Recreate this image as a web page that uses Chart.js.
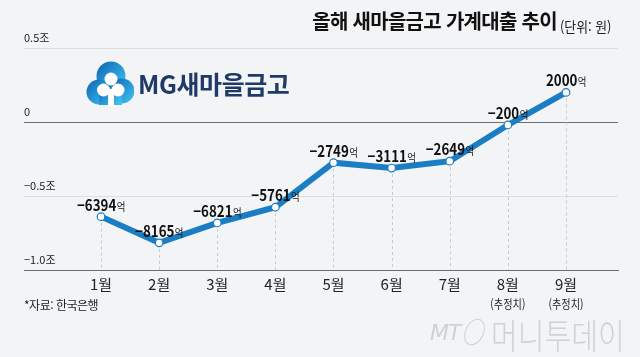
<!DOCTYPE html>
<html lang="ko">
<head>
<meta charset="utf-8">
<script src="https://cdn.jsdelivr.net/npm/chart.js@4.4.1/dist/chart.umd.min.js"></script>
<style>
  html,body{margin:0;padding:0;background:#f3f4f6;}
  #wrap{position:relative;width:640px;height:357px;overflow:hidden;background:#f3f4f6;font-family:"Noto Sans CJK KR","Noto Sans",sans-serif;}
  #c{position:absolute;left:0;top:0;}
  .title{position:absolute;left:290px;top:6px;width:267px;text-align:right;font-size:20px;font-weight:700;color:#111;letter-spacing:-0.7px;white-space:nowrap;}
  .unit{position:absolute;left:560px;top:16px;font-size:14px;color:#222;letter-spacing:0px;white-space:nowrap;transform:scaleX(0.92);transform-origin:0 0;}
  .source{position:absolute;left:24px;top:296px;font-size:12px;color:#222;letter-spacing:-0.5px;white-space:nowrap;}
  .logo{position:absolute;left:86px;top:60px;width:220px;height:50px;}
  .logo svg{position:absolute;left:0;top:0;}
  .logo .lt{position:absolute;left:52px;top:8px;font-size:25px;font-weight:700;color:#1f3a66;letter-spacing:-0.4px;white-space:nowrap;line-height:30px;}
  .wm{position:absolute;left:430px;top:312px;height:40px;white-space:nowrap;color:#cfd1d5;}
  .wm .mt{position:absolute;left:0;top:8px;font-size:22px;font-style:italic;font-weight:300;font-family:"DejaVu Sans",sans-serif;letter-spacing:-1px;}
  .wm .ring{position:absolute;left:35px;top:6px;width:17px;height:26px;border:1.5px solid #cfd1d5;border-radius:50%;transform:rotate(25deg);}
  .wm .name{position:absolute;left:61px;top:-4px;font-size:35px;font-weight:300;letter-spacing:0px;transform:scaleX(0.83);transform-origin:0 0;}
</style>
</head>
<body>
<div id="wrap">
  <canvas id="c" width="640" height="357"></canvas>
  <div class="title">올해 새마을금고 가계대출 추이</div>
  <div class="unit">(단위: 원)</div>
  <div class="logo">
    <svg width="48" height="50" viewBox="0 0 48 50">
      <defs>
        <linearGradient id="g" x1="0" y1="0" x2="1" y2="1">
          <stop offset="0" stop-color="#0e63b0"/>
          <stop offset="0.6" stop-color="#2a9fdc"/>
          <stop offset="1" stop-color="#48c8f0"/>
        </linearGradient>
      </defs>
      <g fill="url(#g)">
        <circle cx="25" cy="16" r="14.5"/>
        <circle cx="13" cy="32" r="12.5"/>
        <circle cx="36" cy="31" r="12.5"/>
        <rect x="13" y="24" width="23" height="21"/>
      </g>
      <g fill="#ffffff">
        <circle cx="25" cy="19" r="6.5"/>
        <circle cx="17.5" cy="30" r="6.5"/>
        <circle cx="32" cy="30" r="6.5"/>
        <rect x="22" y="29" width="6" height="17"/>
      </g>
    </svg>
    <div class="lt">MG새마을금고</div>
  </div>
  <div class="source">*자료: 한국은행</div>
  <div class="wm"><span class="mt">MT</span><span class="ring"></span><span class="name">머니투데이</span></div>
</div>
<script>
// ---- data ----
const months = ['1월','2월','3월','4월','5월','6월','7월','8월','9월'];
const subLabels = ['','','','','','','','(추정치)','(추정치)'];
const loans = [-6394, -8165, -6821, -5761, -2749, -3111, -2649, -200, 2000]; // 억 원
const yTickValues = [5000, 0, -5000, -10000];
const yTickLabels = ['0.5조', '0', '−0.5조', '−1.0조'];
const valueUnit = '억';

const FONT = '"Noto Sans CJK KR","Noto Sans",sans-serif';
const BLUE = '#1b7dc4';

const dropLines = {
  id: 'dropLines',
  beforeDatasetsDraw(chart) {
    const {ctx, chartArea} = chart;
    const meta = chart.getDatasetMeta(0);
    ctx.save();
    ctx.strokeStyle = '#c8ccd2';
    ctx.lineWidth = 1;
    ctx.setLineDash([3, 3]);
    meta.data.forEach(pt => {
      const x = Math.round(pt.x) + 0.5;
      ctx.beginPath();
      ctx.moveTo(x, pt.y);
      ctx.lineTo(x, chartArea.bottom);
      ctx.stroke();
    });
    ctx.restore();
  }
};

const valueLabels = {
  id: 'valueLabels',
  afterDatasetsDraw(chart) {
    const {ctx} = chart;
    const meta = chart.getDatasetMeta(0);
    const sx = 0.86;
    ctx.save();
    ctx.fillStyle = '#111';
    ctx.textBaseline = 'alphabetic';
    ctx.textAlign = 'left';
    meta.data.forEach((pt, i) => {
      const v = loans[i];
      const num = (v < 0 ? '−' : '') + Math.abs(v);
      const f1 = 'bold 15.5px ' + FONT;
      const f2 = '11px ' + FONT;
      ctx.font = f1; const w1 = ctx.measureText(num).width;
      ctx.font = f2; const w2 = ctx.measureText(valueUnit).width;
      const total = (w1 + w2) * sx;
      ctx.save();
      ctx.translate(pt.x - total / 2, pt.y - 6);
      ctx.scale(sx, 1);
      ctx.font = f1; ctx.fillText(num, 0, 0);
      ctx.font = f2; ctx.fillText(valueUnit, w1 + 0.5, 0);
      ctx.restore();
    });
    ctx.restore();
  }
};

const subTicks = {
  id: 'subTicks',
  afterDraw(chart) {
    const {ctx, scales: {x}} = chart;
    ctx.save();
    ctx.fillStyle = '#222';
    ctx.font = '12px ' + FONT;
    ctx.textAlign = 'center';
    ctx.textBaseline = 'middle';
    subLabels.forEach((s, i) => {
      if (!s) return;
      const px = x.getPixelForValue(i);
      ctx.save();
      ctx.translate(px, x.bottom + 6);
      ctx.scale(0.85, 1);
      ctx.fillText(s, 0, 0);
      ctx.restore();
    });
    ctx.restore();
  }
};

new Chart(document.getElementById('c'), {
  type: 'line',
  data: {
    datasets: [{
      data: loans.map((v, i) => ({x: i, y: v})),
      borderColor: BLUE,
      borderWidth: 6,
      tension: 0,
      pointRadius: 3.8,
      pointBackgroundColor: '#ffffff',
      pointBorderColor: BLUE,
      pointBorderWidth: 1.2,
      clip: false
    }]
  },
  options: {
    responsive: false,
    devicePixelRatio: 1,
    animation: false,
    layout: {padding: {left: 24, right: 22, top: 48, bottom: 59}},
    plugins: {legend: {display: false}, tooltip: {enabled: false}},
    scales: {
      x: {
        type: 'linear',
        min: -1.325,
        max: 8.895,
        afterBuildTicks: (s) => { s.ticks = months.map((m, i) => ({value: i})); },
        grid: {display: false, drawTicks: false},
        border: {display: true, color: '#6e6e6e', width: 1},
        ticks: {
          autoSkip: false, maxRotation: 0, padding: 5,
          color: '#222',
          font: {family: FONT, size: 15},
          callback: (v) => months[v]
        }
      },
      y: {
        min: -10000,
        max: 5000,
        afterBuildTicks: (s) => { s.ticks = yTickValues.map(v => ({value: v})); },
        border: {display: false},
        grid: {
          drawTicks: false,
          lineWidth: 1,
          color: (c) => c.tick && (c.tick.value === 0 || c.tick.value === -10000) ? '#6e6e6e' : '#dcdee2'
        },
        ticks: {
          mirror: true, padding: 0, labelOffset: -10,
          color: '#222',
          font: {family: FONT, size: 11},
          callback: (v) => yTickLabels[yTickValues.indexOf(v)]
        }
      }
    }
  },
  plugins: [dropLines, valueLabels, subTicks]
});
</script>
</body>
</html>
